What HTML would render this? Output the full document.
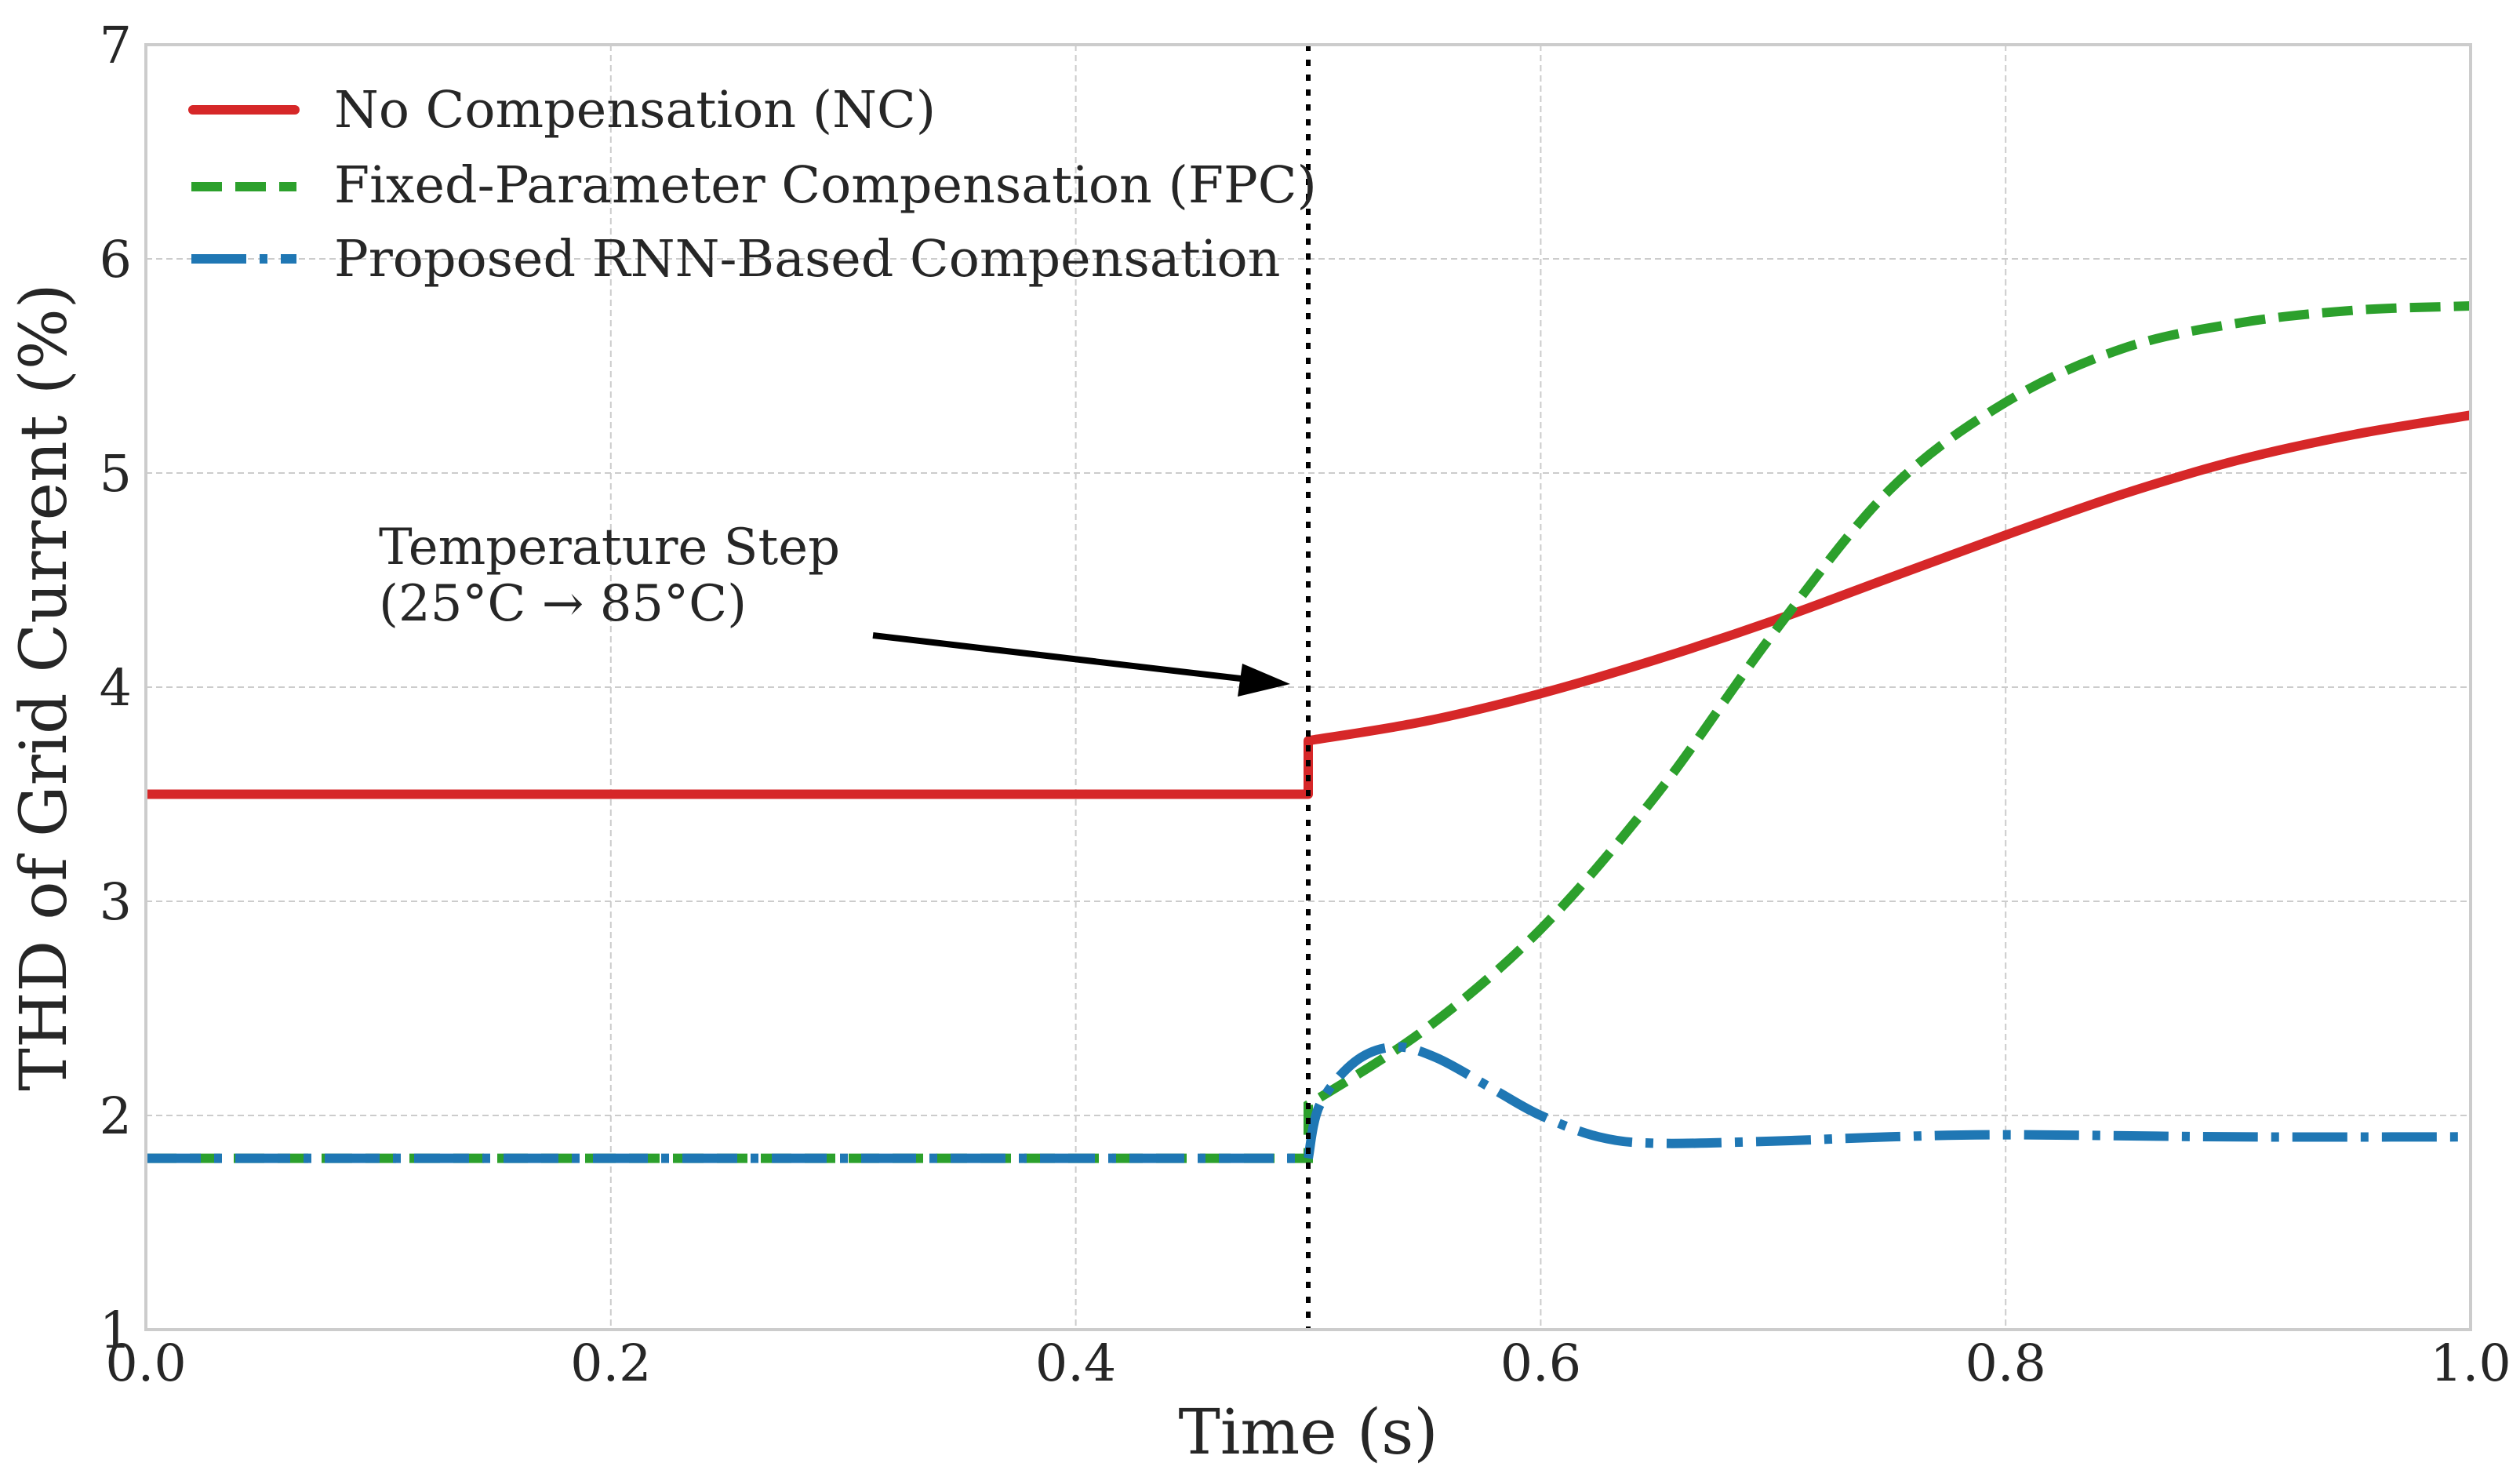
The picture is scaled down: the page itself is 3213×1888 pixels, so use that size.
<!DOCTYPE html>
<html><head><meta charset="utf-8"><style>
html,body{margin:0;padding:0;background:#fff}
svg{display:block}
text{font-family:"DejaVu Serif","Liberation Serif",serif;fill:#262626}
</style></head><body>
<svg id="chart" width="3213" height="1888" viewBox="0 0 3213 1888">
<g id="grid"></g>
<g id="ticks"></g>
<g id="series"></g>
<rect x="186" y="57" width="2964" height="1638" fill="none" stroke="#cccccc" stroke-width="4"/>
<text x="1668" y="1853" font-size="80" text-anchor="middle">Time (s)</text>
<text transform="translate(84,876) rotate(-90)" font-size="82" text-anchor="middle">THD of Grid Current (%)</text>
<g>
<text x="483" y="719" font-size="64">Temperature Step</text>
<text x="483" y="791" font-size="64">(25°C → 85°C)</text>
<line x1="1113" y1="810" x2="1590" y2="866" stroke="#000" stroke-width="8"/>
<polygon points="1645,872 1584,846 1578,888" fill="#000"/>
</g>
<g>
<line x1="246" y1="140" x2="376" y2="140" stroke="#d62728" stroke-width="12" stroke-linecap="round"/>
<text x="426" y="162" font-size="65">No Compensation (NC)</text>
<line x1="244" y1="238" x2="378" y2="238" stroke="#2ca02c" stroke-width="12" stroke-dasharray="39,17"/>
<text x="426" y="258" font-size="65">Fixed-Parameter Compensation (FPC)</text>
<line x1="244" y1="330" x2="378" y2="330" stroke="#1f77b4" stroke-width="12" stroke-dasharray="70,17,10,17"/>
<text x="426" y="352" font-size="65">Proposed RNN-Based Compensation</text>
</g>
</svg>
<script>
const xTicks = [0.0, 0.2, 0.4, 0.6, 0.8, 1.0];
const xTickLabels = ["0.0", "0.2", "0.4", "0.6", "0.8", "1.0"];
const yTicks = [1, 2, 3, 4, 5, 6, 7];
const yTickLabels = ["1", "2", "3", "4", "5", "6", "7"];
const stepTime = 0.5;
const ncT = [0, 0.5, 0.5, 0.55, 0.6, 0.65, 0.7, 0.75, 0.8, 0.85, 0.9, 0.95, 1.0];
const ncV = [3.5, 3.5, 3.75, 3.84, 3.97, 4.13, 4.31, 4.51, 4.71, 4.9, 5.06, 5.18, 5.27];
const fpcT = [0, 0.5, 0.5, 0.55, 0.6, 0.65, 0.7, 0.75, 0.8, 0.85, 0.9, 0.95, 1.0];
const fpcV = [1.8, 1.8, 2.05, 2.4, 2.87, 3.5, 4.25, 4.92, 5.33, 5.58, 5.7, 5.76, 5.78];
const rnnT = [0, 0.5, 0.505, 0.52, 0.537, 0.555, 0.58, 0.6, 0.625, 0.65, 0.7, 0.75, 0.8, 0.9, 1.0];
const rnnV = [1.8, 1.8, 2.05, 2.25, 2.32, 2.27, 2.12, 2.0, 1.9, 1.87, 1.88, 1.9, 1.91, 1.9, 1.9];

const NS = "http://www.w3.org/2000/svg";
const L = 186, R = 3150, T = 57, B = 1695;
function sx(v){ return L + (v - 0) / (1 - 0) * (R - L); }
function sy(v){ return B - (v - 1) / (7 - 1) * (B - T); }
function mk(tag, attrs, parent){
  const e = document.createElementNS(NS, tag);
  for (const k in attrs) e.setAttribute(k, attrs[k]);
  parent.appendChild(e); return e;
}
const grid = document.getElementById('grid');
const ticks = document.getElementById('ticks');
xTicks.forEach((v, i) => {
  const g = mk('line', {x1: sx(v), x2: sx(v), y1: T, y2: B, stroke: '#cccccc', 'stroke-width': 2, 'stroke-dasharray': '8,5'}, grid);
  
  
  const t = mk('text', {x: sx(v), y: 1760, 'font-size': 65, 'text-anchor': 'middle'}, ticks);
  t.textContent = xTickLabels[i];
  
  
});
yTicks.forEach((v, i) => {
  const g = mk('line', {x1: L, x2: R, y1: sy(v), y2: sy(v), stroke: '#cccccc', 'stroke-width': 2, 'stroke-dasharray': '8,5'}, grid);
  
  
  const t = mk('text', {x: 168, y: sy(v) + 23, 'font-size': 65, 'text-anchor': 'end'}, ticks);
  t.textContent = yTickLabels[i];
  
  
});
function pathFor(ts, vs){
  const pts = ts.map((t, i) => [sx(t), sy(vs[i])]);
  let d = 'M' + pts[0][0] + ',' + pts[0][1];
  d += ' L' + pts[1][0] + ',' + pts[1][1];
  for (let i = 1; i < pts.length - 1; i++){
    const p1 = pts[i], p2 = pts[i + 1];
    if (Math.abs(p1[0] - p2[0]) < 0.5) { d += ' L' + p2[0] + ',' + p2[1]; continue; }
    let p0 = pts[i - 1], p3 = pts[Math.min(i + 2, pts.length - 1)];
    if (i === 1 || Math.abs(p0[0] - p1[0]) < 0.5) p0 = p1;
    if (Math.abs(p3[0] - p2[0]) < 0.5) p3 = p2;
    const c1 = [p1[0] + (p2[0] - p0[0]) / 6, p1[1] + (p2[1] - p0[1]) / 6];
    const c2 = [p2[0] - (p3[0] - p1[0]) / 6, p2[1] - (p3[1] - p1[1]) / 6];
    d += ' C' + c1[0] + ',' + c1[1] + ' ' + c2[0] + ',' + c2[1] + ' ' + p2[0] + ',' + p2[1];
  }
  return d;
}
const series = document.getElementById('series');
const nc = mk('path', {d: pathFor(ncT, ncV), fill: 'none', stroke: '#d62728', 'stroke-width': 12, 'stroke-linejoin': 'round'}, series);


const fpc = mk('path', {d: pathFor(fpcT, fpcV), fill: 'none', stroke: '#2ca02c', 'stroke-width': 12, 'stroke-dasharray': '39,17'}, series);


const rnn = mk('path', {d: pathFor(rnnT, rnnV), fill: 'none', stroke: '#1f77b4', 'stroke-width': 12, 'stroke-dasharray': '70,17,10,17'}, series);


const vl = mk('line', {x1: sx(stepTime), x2: sx(stepTime), y1: T, y2: B, stroke: '#000', 'stroke-width': 6, 'stroke-dasharray': '8,11'}, series);


</script>
</body></html>
